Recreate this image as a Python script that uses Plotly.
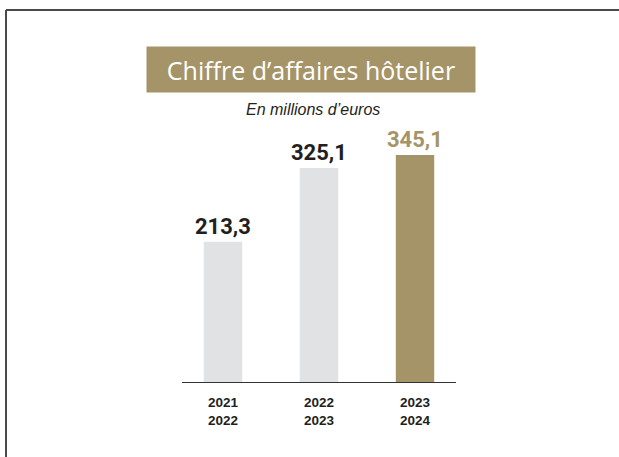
import plotly.graph_objects as go

periods = ["2021<br>2022", "2022<br>2023", "2023<br>2024"]
revenue = [213.3, 325.1, 345.1]
labels = ["213,3", "325,1", "345,1"]
bar_colors = ["#E1E2E4", "#E1E2E4", "#A59467"]
label_colors = ["#231F20", "#231F20", "#A59467"]

W, H = 619, 457
left, right, top, bottom = 182, 163, 120, 75
pw, ph = W - left - right, H - top - bottom


def px(x):
    return (x - left) / pw


def py(y):
    return (H - bottom - y) / ph


fig = go.Figure(
    go.Bar(
        x=periods,
        y=revenue,
        marker=dict(color=bar_colors, line=dict(width=0)),
        width=0.4,
        hoverinfo="skip",
    )
)

# value labels above bars
for p, v, t, c in zip(periods, revenue, labels, label_colors):
    fig.add_annotation(
        x=p, y=v, text=t, showarrow=False, yanchor="bottom", yshift=1,
        font=dict(family="Liberation Sans Narrow, Roboto, Arial, sans-serif",
                  size=22, color=c, weight="bold"),
    )

# title block
fig.add_annotation(
    x=px(311), y=py(69.5), xref="paper", yref="paper",
    text="Chiffre d’affaires hôtelier",
    showarrow=False, width=326, height=43, bgcolor="#A59467",
    font=dict(family="Open Sans, Noto Sans, sans-serif", size=25, color="white",
              weight=500),
    xanchor="center", yanchor="middle",
)
fig.add_annotation(
    x=px(313), y=py(109), xref="paper", yref="paper",
    text="<i>En millions d’euros</i>", showarrow=False,
    font=dict(family="Liberation Sans, Arial, sans-serif", size=16, color="#231F20"),
    xanchor="center", yanchor="middle",
)

# frame (top and left edges only)
frame = dict(color="#4a4a4a", width=2)
fig.add_shape(type="line", xref="paper", yref="paper",
              x0=px(6), x1=px(625), y0=py(10), y1=py(10), line=frame)
fig.add_shape(type="line", xref="paper", yref="paper",
              x0=px(6), x1=px(6), y0=py(10), y1=py(465), line=frame)

fig.update_layout(
    width=W, height=H,
    margin=dict(l=left, r=right, t=top, b=bottom),
    paper_bgcolor="white", plot_bgcolor="white",
    showlegend=False,
    xaxis=dict(
        range=[-0.427, 2.427],
        showline=True, linecolor="#333333", linewidth=1,
        showgrid=False, ticks="", ticklabelstandoff=8,
        tickfont=dict(family="Liberation Sans, Arial, sans-serif", size=13.5,
                      color="#231F20", weight="bold"),
    ),
    yaxis=dict(range=[0, ph / 0.658], visible=False, showgrid=False),
)

fig.write_html("out.html", config={"displayModeBar": False},
               post_script="document.body.style.margin='0';")
